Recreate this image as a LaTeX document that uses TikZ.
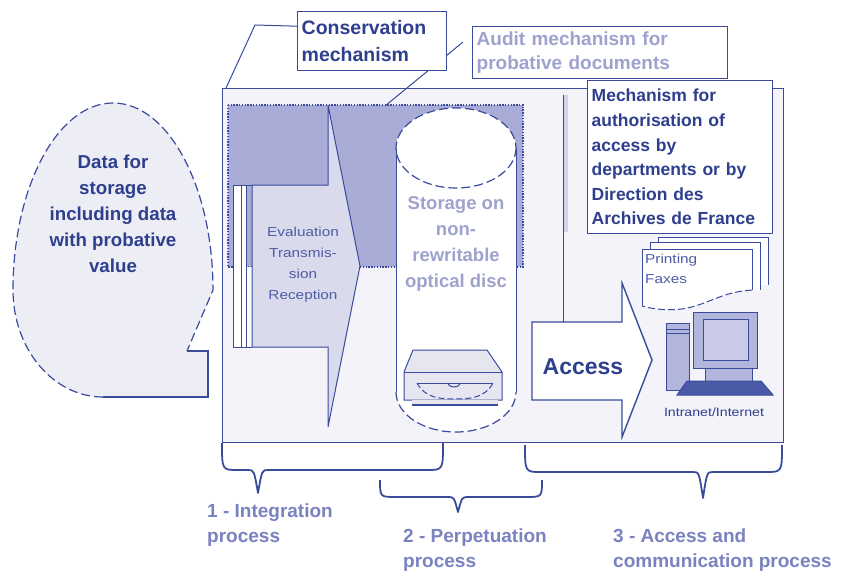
\documentclass[tikz,border=0pt]{standalone}
\usepackage{fontspec}
\setmainfont{Liberation Sans}
\newfontfamily\widefont[FakeStretch=1.18]{Liberation Sans}
\definecolor{linecol}{HTML}{3A4B9C}
\definecolor{textdark}{HTML}{2E3F8E}
\definecolor{textlight}{HTML}{9EA2CC}
\definecolor{labelcol}{HTML}{7A82C0}
\definecolor{shadecol}{HTML}{A9ACD6}
\definecolor{arrowfill}{HTML}{D9DAEC}
\definecolor{framefill}{HTML}{F3F3F9}
\definecolor{bubblefill}{HTML}{EDEDF6}
\definecolor{smalltext}{HTML}{4F5DA5}
\definecolor{compfill}{HTML}{B3B6DC}
\definecolor{screenfill}{HTML}{C9CBE6}
\definecolor{keyfill}{HTML}{4B5AA6}
\definecolor{drivefill}{HTML}{E6E6F0}
\begin{document}
\begin{tikzpicture}[x=1pt,y=-1pt,
  heavy/.style={draw=linecol, line width=1.4pt},
  fine/.style={draw=linecol, line width=1pt},
  dotborder/.style={draw=linecol, line width=1.4pt, dash pattern=on 1.4pt off 1.4pt},
  dashline/.style={draw=linecol, line width=1.2pt, dash pattern=on 9pt off 4pt},
  brace/.style={draw=linecol, line width=1.8pt, line join=round},
  labelbox/.style={draw=linecol, line width=1.4pt, fill=white, inner sep=4pt,
    anchor=north west, align=left},
  boldtext/.style={font=\bfseries\fontsize{18.7}{26}\selectfont, text=textdark},
  caption/.style={anchor=north west, align=left, inner sep=0pt, text=labelcol,
    font=\bfseries\fontsize{19}{25}\selectfont}]
\useasboundingbox (0,0) rectangle (842,575);
\fill[white] (0,0) rectangle (842,575);

% conservation frame
\node[heavy, fill=framefill, minimum width=561, minimum height=354, anchor=north west,
  inner sep=0pt] (frame) at (222,88) {};

% leader of the conservation label
\coordinate (consbend) at (255,25);
\coordinate (framecorner) at (226,88);

% shaded audit area
\fill[shadecol] (228,105) rectangle (523,267);
\draw[dotborder] (228,105) rectangle (523,267);

% stacked sheets behind the integration arrow
\fill[white] (233,267) rectangle (252,347);
\fill[white] (233,185) rectangle (246,267);
\draw[fine] (233,347) -- (233,185) -- (252,185);
\draw[fine] (241,347) -- (241,185);
\draw[fine] (246,347) -- (246,185);
\draw[fine] (233,347) -- (252,347);

% integration arrow
\draw[fine, fill=arrowfill] (252,185) -- (328,185) -- (328,105) -- (360,266)
  -- (328,427) -- (328,347) -- (252,347) -- cycle;
\node[font=\widefont\fontsize{13}{21}\selectfont, text=smalltext, align=center]
  (evaltext) at (303,265) {Evaluation\\Transmis-\\sion\\Reception};

% storage cylinder
\fill[white] (396,148) -- (396,392) arc[start angle=180, end angle=0, x radius=60, y radius=40]
  -- (516,148) arc[start angle=0, end angle=-180, x radius=60, y radius=40] -- cycle;
\draw[fine] (396,148) -- (396,392);
\draw[fine] (516,148) -- (516,392);
\draw[dashline] (396,392) arc[start angle=180, end angle=0, x radius=60, y radius=40];
\draw[dashline] (456,148) ellipse[x radius=60, y radius=40];
\node[font=\bfseries\fontsize{18.5}{26}\selectfont, text=textlight, align=center]
  (storage) at (456,244) {Storage on\\non-\\rewritable\\optical disc};

% optical disc drive
\draw[fine, fill=drivefill] (413,350) -- (487,350) -- (502,372) -- (502,400) -- (404,400)
  -- (404,372) -- cycle;
\draw[fine] (404,372) -- (502,372);
\draw[fine] (417,383) -- (493,383);
\draw[fine, dash pattern=on 6pt off 3pt] (417,383) .. controls (425,398) and (440,399) .. (455,399)
  .. controls (470,399) and (485,398) .. (493,383);
\draw[fine] (448,384) .. controls (450,388) and (458,388) .. (460,384);
\fill[drivefill] (412,400) rectangle (498,405);
\draw[draw=linecol, line width=2pt] (412,405) -- (498,405);

% separator column
\fill[compfill!60] (564,95) rectangle (568,232);
\coordinate (septop) at (563,95);
\coordinate (sepbot) at (563,322);
\draw[fine] (septop) -- (sepbot);

% printing sheets
\draw[fine, fill=white] (658,285) -- (658,237) -- (768,237) -- (768,285);
\draw[fine, fill=white] (650,290) -- (650,242) -- (760,242) -- (760,290);
\fill[white] (642,249) -- (752,249) -- (752,290) .. controls (725,292) and (715,300) .. (695,306)
  .. controls (680,311) and (660,311) .. (642,306) -- cycle;
\draw[fine] (642,306) -- (642,249) -- (752,249) -- (752,290);
\draw[fine, dash pattern=on 7pt off 3pt] (752,290) .. controls (725,292) and (715,300) .. (695,306)
  .. controls (680,311) and (660,311) .. (642,306);
\node[anchor=north west, align=left, inner sep=0pt, text=smalltext,
  font=\widefont\fontsize{13}{20}\selectfont] (printing) at (645,254) {Printing\\Faxes};

% access arrow
\draw[heavy, fill=white] (532,322) -- (622,322) -- (622,283) -- (652,360) -- (622,437)
  -- (622,400) -- (532,400) -- cycle;
\node[font=\bfseries\fontsize{23}{26}\selectfont, text=textdark] (access) at (583,367) {Access};

% workstation
\draw[fine, fill=compfill] (666,323) rectangle (689,390);
\draw[fine] (666,329) -- (689,329);
\draw[fine] (666,333) -- (689,333);
\draw[fine, fill=compfill] (705,368) rectangle (752,381);
\draw[fine, fill=compfill] (693,312) rectangle (757,368);
\draw[fine, fill=screenfill] (703,319) rectangle (748,360);
\draw[fine, fill=keyfill] (687,381) -- (761,381) -- (773,395) -- (677,395) -- cycle;
\node[font=\widefont\fontsize{12}{14}\selectfont, text=textdark] (net) at (714,412)
  {Intranet/Internet};

% data bubble
\fill[bubblefill] (208,397) -- (103,397)
  arc[start angle=90, end angle=180, x radius=90, y radius=107]
  arc[start angle=180, end angle=360, x radius=100, y radius=187]
  -- (187,351) -- (208,351) -- cycle;
\draw[dashline] (103,397)
  arc[start angle=90, end angle=180, x radius=90, y radius=107]
  arc[start angle=180, end angle=360, x radius=100, y radius=187] -- (187,351);
\draw[heavy] (187,351) -- (208,351) -- (208,397) -- (103,397);
\node[boldtext, align=center] (data) at (113,214)
  {Data for\\storage\\including data\\with probative\\value};

% authorisation label
\node[labelbox, minimum width=185, minimum height=153, text width=177, text=textdark,
  font=\bfseries\fontsize{17.5}{24.6}\selectfont] (auth) at (587,80)
  {Mechanism for\\authorisation of\\access by\\departments or by\\Direction des\\Archives de France};

% audit label and its leader
\coordinate (auditfoot) at (385,106);
\coordinate (auditend) at (463,42);
\draw[fine] (auditfoot) -- (auditend);
\node[labelbox, minimum width=255, minimum height=52, text width=247, text=textlight,
  font=\bfseries\fontsize{19}{24}\selectfont] (audit) at (472,26)
  {Audit mechanism for\\probative documents};

% conservation label and its leader
\node[labelbox, minimum width=149, minimum height=59, text width=141, text=textdark,
  font=\bfseries\fontsize{19.5}{27}\selectfont] (cons) at (297,11)
  {Conservation\\mechanism};
\draw[fine] ([yshift=15pt]cons.west) -- (consbend) -- (framecorner);

% process braces
\draw[brace] (222,443) .. controls (222,470) .. (238,470) -- (248,470)
  .. controls (254,470) .. (258,493) .. controls (262,470) .. (268,470)
  -- (427,470) .. controls (443,470) .. (443,443);
\draw[brace] (380,480) .. controls (380,497) .. (396,497) -- (448,497)
  .. controls (454,497) .. (458,512) .. controls (462,497) .. (468,497)
  -- (526,497) .. controls (542,497) .. (542,480);
\draw[brace] (525,445) .. controls (525,472) .. (541,472) -- (693,472)
  .. controls (699,472) .. (703,498) .. controls (707,472) .. (713,472)
  -- (766,472) .. controls (782,472) .. (782,445);

% process captions
\node[caption] (p1) at (207,504) {1 - Integration\\process};
\node[caption] (p2) at (403,529) {2 - Perpetuation\\process};
\node[caption] (p3) at (613,529) {3 - Access and\\communication process};
\end{tikzpicture}
\end{document}
